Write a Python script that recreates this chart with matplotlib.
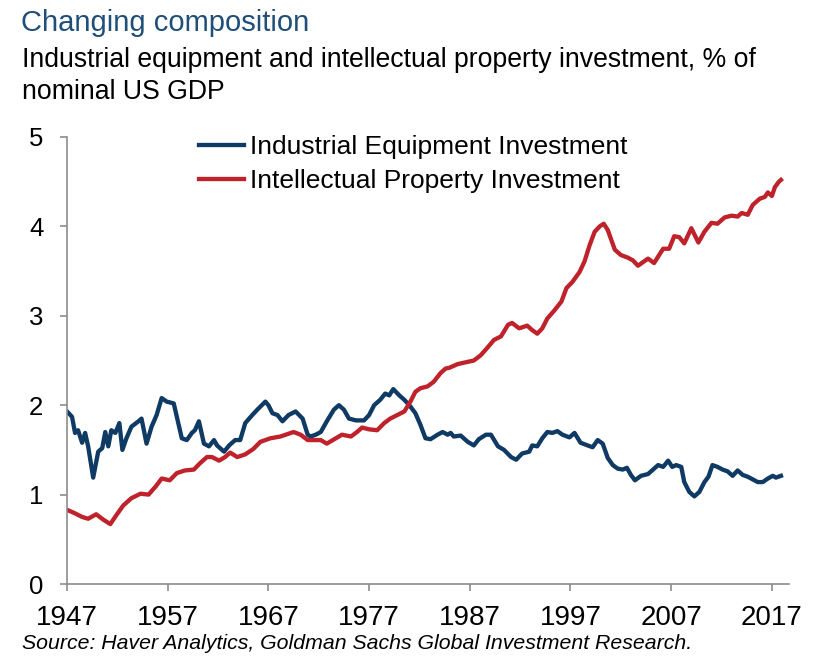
import matplotlib
matplotlib.use("Agg")
import matplotlib.pyplot as plt

# Industrial equipment investment, % of nominal US GDP
equip_years = [1947.0, 1947.5, 1947.8, 1948.1, 1948.5, 1948.8, 1949.1, 1949.6, 1950.1, 1950.5,
               1950.8, 1951.1, 1951.4, 1951.8, 1952.2, 1952.5, 1952.9, 1953.4, 1954.1, 1954.4,
               1954.9, 1955.4, 1955.9, 1956.4, 1956.9, 1957.6, 1958.4, 1958.9, 1959.4, 1959.7,
               1960.1, 1960.6, 1961.1, 1961.6, 1961.9, 1962.6, 1963.1, 1963.7, 1964.2, 1964.7,
               1965.4, 1965.9, 1966.7, 1967.0, 1967.4, 1967.9, 1968.4, 1969.0, 1969.7, 1970.4,
               1970.9, 1971.2, 1971.7, 1972.2, 1972.8, 1973.5, 1974.0, 1974.5, 1975.0, 1975.7,
               1976.5, 1977.0, 1977.5, 1978.1, 1978.6, 1979.0, 1979.4, 1980.0, 1980.5, 1981.0,
               1981.6, 1982.1, 1982.6, 1983.1, 1983.8, 1984.3, 1984.8, 1985.1, 1985.4, 1986.1,
               1986.8, 1987.4, 1987.9, 1988.6, 1989.1, 1989.8, 1990.4, 1991.1, 1991.6, 1992.2,
               1992.9, 1993.2, 1993.7, 1994.2, 1994.7, 1995.2, 1995.7, 1996.2, 1996.9, 1997.4,
               1998.0, 1998.7, 1999.2, 1999.7, 2000.2, 2000.7, 2001.2, 2001.7, 2002.2, 2002.6,
               2003.0, 2003.4, 2004.0, 2004.7, 2005.2, 2005.7, 2006.2, 2006.7, 2007.1, 2007.5,
               2008.0, 2008.3, 2008.8, 2009.3, 2009.8, 2010.3, 2010.7, 2011.1, 2011.6, 2012.1,
               2012.6, 2013.1, 2013.6, 2014.1, 2014.6, 2015.1, 2015.6, 2016.1, 2016.6, 2017.1,
               2017.4, 2017.9]
equip_vals = [1.93, 1.87, 1.69, 1.72, 1.58, 1.69, 1.54, 1.19, 1.48, 1.52,
              1.70, 1.54, 1.72, 1.69, 1.80, 1.50, 1.63, 1.76, 1.82, 1.85,
              1.57, 1.76, 1.89, 2.08, 2.04, 2.02, 1.63, 1.61, 1.69, 1.72,
              1.82, 1.57, 1.54, 1.61, 1.55, 1.48, 1.55, 1.61, 1.61, 1.80,
              1.89, 1.95, 2.04, 2.00, 1.91, 1.89, 1.82, 1.89, 1.93, 1.85,
              1.67, 1.65, 1.67, 1.70, 1.82, 1.95, 2.00, 1.95, 1.85, 1.83,
              1.83, 1.89, 2.00, 2.06, 2.13, 2.11, 2.18, 2.11, 2.06, 2.00,
              1.91, 1.78, 1.63, 1.62, 1.67, 1.70, 1.67, 1.69, 1.65, 1.66,
              1.59, 1.55, 1.62, 1.67, 1.67, 1.54, 1.50, 1.42, 1.39, 1.46,
              1.48, 1.55, 1.54, 1.63, 1.70, 1.69, 1.71, 1.67, 1.64, 1.69,
              1.58, 1.55, 1.53, 1.61, 1.57, 1.41, 1.33, 1.29, 1.28, 1.30,
              1.22, 1.16, 1.21, 1.23, 1.28, 1.33, 1.31, 1.38, 1.31, 1.33,
              1.31, 1.14, 1.03, 0.98, 1.03, 1.14, 1.20, 1.33, 1.31, 1.28,
              1.26, 1.21, 1.27, 1.22, 1.20, 1.17, 1.14, 1.14, 1.18, 1.21,
              1.19, 1.21]

# Intellectual property investment, % of nominal US GDP
ip_years = [1947.0, 1947.8, 1948.5, 1949.1, 1949.9, 1950.6, 1951.3, 1951.9, 1952.6, 1953.4,
            1954.3, 1955.1, 1955.8, 1956.4, 1957.2, 1957.9, 1958.7, 1959.6, 1960.2, 1960.9,
            1961.4, 1962.1, 1962.7, 1963.2, 1963.9, 1964.7, 1965.5, 1966.2, 1967.2, 1968.2,
            1969.5, 1970.2, 1970.9, 1971.5, 1972.2, 1972.8, 1973.7, 1974.3, 1975.2, 1975.8,
            1976.3, 1977.0, 1977.8, 1978.5, 1979.1, 1979.8, 1980.5, 1981.1, 1981.6, 1982.1,
            1982.8, 1983.4, 1984.1, 1984.6, 1985.0, 1985.8, 1986.6, 1987.4, 1988.1, 1988.8,
            1989.4, 1990.1, 1990.8, 1991.2, 1991.9, 1992.7, 1993.2, 1993.7, 1994.2, 1994.7,
            1995.4, 1996.1, 1996.6, 1997.2, 1997.9, 1998.4, 1998.9, 1999.4, 1999.9, 2000.3,
            2000.7, 2001.4, 2002.0, 2002.7, 2003.2, 2003.7, 2004.7, 2005.3, 2006.2, 2006.8,
            2007.3, 2007.8, 2008.3, 2009.0, 2009.7, 2010.3, 2011.0, 2011.6, 2012.3, 2013.0,
            2013.6, 2014.0, 2014.6, 2015.1, 2015.8, 2016.3, 2016.6, 2017.0, 2017.3, 2017.7,
            2017.9]
ip_vals = [0.83, 0.79, 0.75, 0.73, 0.78, 0.72, 0.67, 0.77, 0.88, 0.96,
           1.01, 1.00, 1.09, 1.18, 1.16, 1.24, 1.27, 1.28, 1.35, 1.42,
           1.42, 1.38, 1.42, 1.47, 1.42, 1.45, 1.51, 1.59, 1.63, 1.65,
           1.70, 1.67, 1.61, 1.61, 1.61, 1.57, 1.63, 1.67, 1.65, 1.70,
           1.75, 1.73, 1.72, 1.80, 1.85, 1.89, 1.93, 2.04, 2.15, 2.19,
           2.21, 2.26, 2.36, 2.41, 2.42, 2.46, 2.48, 2.50, 2.56, 2.65,
           2.73, 2.77, 2.90, 2.92, 2.86, 2.89, 2.84, 2.80, 2.86, 2.97,
           3.06, 3.16, 3.31, 3.38, 3.49, 3.61, 3.79, 3.94, 4.00, 4.03,
           3.96, 3.74, 3.68, 3.65, 3.62, 3.56, 3.64, 3.59, 3.75, 3.75,
           3.89, 3.88, 3.81, 3.98, 3.82, 3.94, 4.04, 4.03, 4.10, 4.12,
           4.11, 4.15, 4.13, 4.24, 4.31, 4.33, 4.38, 4.34, 4.44, 4.50,
           4.52]

year_ticks = [1947, 1957, 1967, 1977, 1987, 1997, 2007, 2017]
value_ticks = [0, 1, 2, 3, 4, 5]

plt.rcParams['font.family'] = ['Liberation Sans', 'DejaVu Sans']

W, H = 821, 667
fig = plt.figure(figsize=(W / 100, H / 100), dpi=100)
ax = fig.add_axes([67 / W, 1 - 584 / H, (789 - 67) / W, (584 - 137) / H])

blue = '#0E3A64'
red = '#BF222B'
ax.plot(equip_years, equip_vals, color=blue, lw=3.1, solid_joinstyle='round',
        label='Industrial Equipment Investment')
ax.plot(ip_years, ip_vals, color=red, lw=3.1, solid_joinstyle='round',
        label='Intellectual Property Investment')

ax.set_xlim(1947, 2018.7)
ax.set_ylim(0, 5)
ax.set_xticks(year_ticks)
ax.set_yticks(value_ticks)

for side in ['top', 'right']:
    ax.spines[side].set_visible(False)
for side in ['left', 'bottom']:
    ax.spines[side].set_color('#8c8c8c')
    ax.spines[side].set_linewidth(1.2)

ax.tick_params(axis='x', direction='out', length=5, width=1.2, color='#8c8c8c',
               labelsize=20, pad=10)
ax.tick_params(axis='y', direction='out', length=5, width=1.2, color='#8c8c8c',
               labelsize=18.5, pad=12)

leg = ax.legend(loc='upper left', bbox_to_anchor=(199 / W, 1 - 135 / H),
                bbox_transform=fig.transFigure, frameon=False, fontsize=19,
                handlelength=1.7, handletextpad=0.22, labelspacing=0.38,
                borderpad=0, borderaxespad=0)

fig.text(21 / W, 1 - 31 / H, 'Changing composition', fontsize=21, color='#1F4E79',
         va='baseline', ha='left')
fig.text(22 / W, 1 - 67 / H, 'Industrial equipment and intellectual property investment, % of',
         fontsize=19.2, va='baseline', ha='left')
fig.text(22 / W, 1 - 99 / H, 'nominal US GDP', fontsize=19.2, va='baseline', ha='left')
fig.text(22 / W, 1 - 649 / H,
         'Source: Haver Analytics, Goldman Sachs Global Investment Research.',
         fontsize=15.3, style='italic', va='baseline', ha='left')

fig.savefig('out.png', dpi=100)
